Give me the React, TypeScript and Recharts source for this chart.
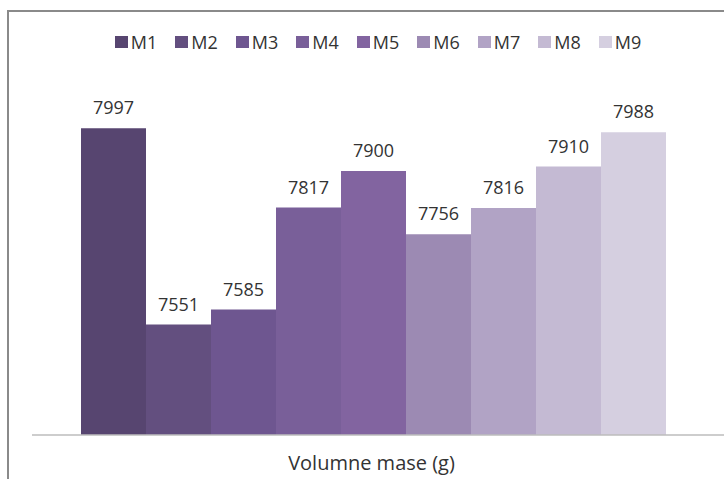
import React from "react";
import { BarChart, Bar, XAxis, YAxis, LabelList } from "recharts";

const categories = ["Volumne mase (g)"];
const seriesNames = ["M1", "M2", "M3", "M4", "M5", "M6", "M7", "M8", "M9"];
const seriesValues = [7997, 7551, 7585, 7817, 7900, 7756, 7816, 7910, 7988];
const seriesColors = [
    "#574570", "#634f7f", "#6e5690", "#795f99", "#8264a0",
    "#9c8ab3", "#b1a3c5", "#c4bad3", "#d5cfe0",
];

const data = categories.map((name) => {
    const row: Record<string, string | number> = { name };
    seriesNames.forEach((s, i) => { row[s] = seriesValues[i]; });
    return row;
});

const FONT = "'Open Sans', sans-serif";

function ChartLegend() {
    return (
        <div
            style={{
                position: "absolute",
                top: 29,
                left: 32,
                width: 692,
                display: "flex",
                justifyContent: "center",
                fontFamily: FONT,
                fontSize: 18,
                color: "#333",
                lineHeight: "26px",
            }}
        >
            {seriesNames.map((s, i) => (
                <div key={s} style={{ display: "flex", alignItems: "center", marginRight: i < seriesNames.length - 1 ? 18 : 0 }}>
                    <span style={{ display: "inline-block", width: 13, height: 12, background: seriesColors[i], marginRight: 3 }} />
                    <span>{s}</span>
                </div>
            ))}
        </div>
    );
}

export default function App() {
    return (
        <div style={{ position: "absolute", left: 0, top: 0, width: 724, height: 479, overflow: "hidden", background: "#fff" }}>
            <div
                style={{
                    position: "absolute",
                    left: 7,
                    top: 10,
                    width: 800,
                    height: 600,
                    border: "2px solid #8a8a8a",
                }}
            />
            <ChartLegend />
            <div style={{ position: "absolute", left: 0, top: 0 }}>
                <BarChart
                    width={724}
                    height={479}
                    data={data}
                    margin={{ top: 83, right: 0, left: 32, bottom: 0 }}
                    barCategoryGap={49}
                    barGap={0}
                >
                    <XAxis
                        dataKey="name"
                        height={44}
                        padding={{ left: 0, right: 13 }}
                        axisLine={{ stroke: "#bdbdbd", strokeWidth: 1.5 }}
                        tickLine={false}
                        tickMargin={15}
                        tick={{ fontFamily: FONT, fontSize: 20, fill: "#333" }}
                    />
                    <YAxis hide domain={[7300, 8100]} allowDataOverflow />
                    {seriesNames.map((s, i) => (
                        <Bar key={s} dataKey={s} fill={seriesColors[i]} isAnimationActive={false}>
                            <LabelList
                                dataKey={s}
                                position="top"
                                offset={14}
                                style={{ fontFamily: FONT, fontSize: 18, fill: "#333" }}
                            />
                        </Bar>
                    ))}
                </BarChart>
            </div>
        </div>
    );
}
